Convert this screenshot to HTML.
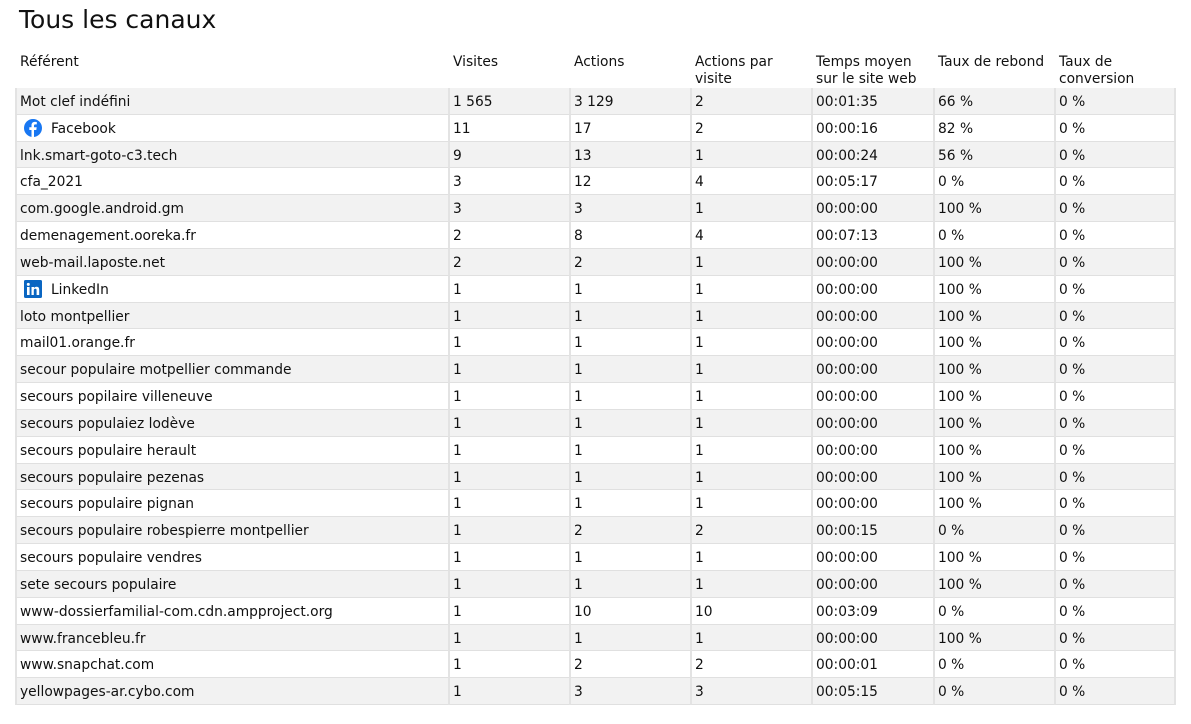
<!DOCTYPE html>
<html><head><meta charset="utf-8"><style>
body{margin:0;background:#fff;width:1191px;height:724px;overflow:hidden;font-family:"DejaVu Sans","Liberation Sans",sans-serif;color:#111;position:relative}
h1{position:absolute;left:19px;top:4px;margin:0;font-weight:normal;font-size:25px;line-height:32px}
.hd{position:absolute;top:54px;font-size:13.8px;line-height:17px}
.g{position:absolute;left:15px;top:88px;width:1161px;display:grid;grid-template-columns:433px 121px 121px 121px 122px 121px 122px;grid-auto-rows:26.83px;font-size:13.8px}
.g div{box-sizing:border-box;border-bottom:1px solid #e0e0e0;border-left:2px solid #e3e3e3;padding-left:3px;line-height:28px;white-space:nowrap;overflow:hidden}
.g div.e{background:#f2f2f2}
.ic{display:inline-block;width:18px;height:18px;vertical-align:-4px;margin-right:9px;margin-left:4px}
</style></head><body>
<h1>Tous les canaux</h1>
<div class="hd" style="left:20px">Référent</div>
<div class="hd" style="left:453px">Visites</div>
<div class="hd" style="left:574px">Actions</div>
<div class="hd" style="left:695px">Actions par<br>visite</div>
<div class="hd" style="left:816px">Temps moyen<br>sur le site web</div>
<div class="hd" style="left:938px">Taux de rebond</div>
<div class="hd" style="left:1059px">Taux de<br>conversion</div>
<div class="g" id="g"></div>
<script>
var rows=[
["Mot clef indéfini","1 565","3 129","2","00:01:35","66 %"],
["FB","11","17","2","00:00:16","82 %"],
["lnk.smart-goto-c3.tech","9","13","1","00:00:24","56 %"],
["cfa_2021","3","12","4","00:05:17","0 %"],
["com.google.android.gm","3","3","1","00:00:00","100 %"],
["demenagement.ooreka.fr","2","8","4","00:07:13","0 %"],
["web-mail.laposte.net","2","2","1","00:00:00","100 %"],
["LI","1","1","1","00:00:00","100 %"],
["loto montpellier","1","1","1","00:00:00","100 %"],
["mail01.orange.fr","1","1","1","00:00:00","100 %"],
["secour populaire motpellier commande","1","1","1","00:00:00","100 %"],
["secours popilaire villeneuve","1","1","1","00:00:00","100 %"],
["secours populaiez lodève","1","1","1","00:00:00","100 %"],
["secours populaire herault","1","1","1","00:00:00","100 %"],
["secours populaire pezenas","1","1","1","00:00:00","100 %"],
["secours populaire pignan","1","1","1","00:00:00","100 %"],
["secours populaire robespierre montpellier","1","2","2","00:00:15","0 %"],
["secours populaire vendres","1","1","1","00:00:00","100 %"],
["sete secours populaire","1","1","1","00:00:00","100 %"],
["www-dossierfamilial-com.cdn.ampproject.org","1","10","10","00:03:09","0 %"],
["www.francebleu.fr","1","1","1","00:00:00","100 %"],
["www.snapchat.com","1","2","2","00:00:01","0 %"],
["yellowpages-ar.cybo.com","1","3","3","00:05:15","0 %"]];
var fb='<svg class="ic" viewBox="0 0 18 18"><circle cx="9" cy="9" r="9" fill="#1877f2"/><path d="M10 18V11h2.3l.4-2.7H10V6.7c0-.8.3-1.3 1.4-1.3h1.4V3c-.3 0-1.1-.1-2-.1-2 0-3.300 1.2-3.3 3.4v2H5.3V11h2.2v7z" fill="#fff"/></svg>Facebook';
var li='<svg class="ic" viewBox="0 0 18 18"><rect width="18" height="18" rx="1.5" fill="#0a66c2"/><rect x="3" y="7" width="2.6" height="8" fill="#fff"/><circle cx="4.3" cy="4.4" r="1.5" fill="#fff"/><path d="M7.5 7h2.5v1.1c.4-.7 1.3-1.3 2.6-1.3 2.2 0 2.6 1.4 2.6 3.3V15h-2.6v-4.3c0-1 0-2-1.3-2s-1.5.9-1.5 1.9V15H7.5z" fill="#fff"/></svg>LinkedIn';
var h='';
rows.forEach(function(r,i){var c=i%2==0?' class="e"':'';var n=r[0]=="FB"?fb:r[0]=="LI"?li:r[0];
h+='<div'+c+'>'+n+'</div>';for(var j=1;j<6;j++)h+='<div'+c+'>'+r[j]+'</div>';h+='<div'+c+' style="border-right:2px solid #e3e3e3">0 %</div>';});
document.getElementById('g').innerHTML=h;
</script>
</body></html>
